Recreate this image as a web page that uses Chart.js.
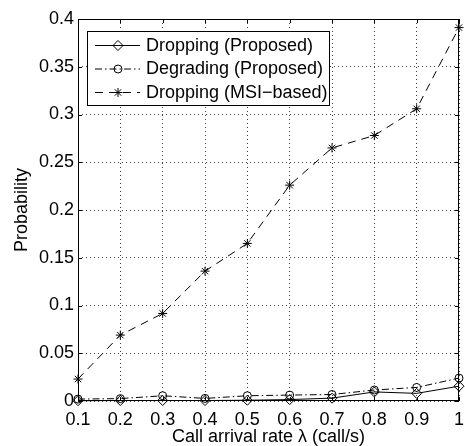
<!DOCTYPE html>
<html>
<head>
<meta charset="utf-8">
<script src="https://cdn.jsdelivr.net/npm/chart.js@4.4.0/dist/chart.umd.min.js"></script>
<style>
  html, body { margin: 0; padding: 0; background: #ffffff; }
  #wrap { width: 465px; height: 446px; position: relative; }
</style>
</head>
<body>
<div id="wrap"><canvas id="c" width="465" height="446"></canvas></div>
<script>
// ---- data ----
const arrivalRates = [0.1, 0.2, 0.3, 0.4, 0.5, 0.6, 0.7, 0.8, 0.9, 1.0];
const droppingProposed = [0.0003, 0.0005, 0.0005, 0.0005, 0.0008, 0.0015, 0.003, 0.0095, 0.008, 0.0155];
const degradingProposed = [0.002, 0.0025, 0.0055, 0.0027, 0.0055, 0.0062, 0.0068, 0.0115, 0.0142, 0.024];
const droppingMSI = [0.023, 0.069, 0.0917, 0.136, 0.165, 0.226, 0.265, 0.278, 0.306, 0.391];
const xTickValues = [0.1, 0.2, 0.3, 0.4, 0.5, 0.6, 0.7, 0.8, 0.9, 1];
const yTickValues = [0, 0.05, 0.1, 0.15, 0.2, 0.25, 0.3, 0.35, 0.4];
const seriesNames = ['Dropping (Proposed)', 'Degrading (Proposed)', 'Dropping (MSI\u2212based)'];
const xTitle = 'Call arrival rate \u03bb (call/s)';
const yTitle = 'Probability';

const FONT = '"Liberation Sans", Arial, Helvetica, sans-serif';

function pts(arr) { return arrivalRates.map((x, i) => ({ x: x, y: arr[i] })); }

const datasets = [
  { label: seriesNames[0], data: pts(droppingProposed), borderColor: '#000', borderWidth: 1,
    pointStyle: 'rectRot', pointRadius: 5, pointBorderWidth: 1, pointBackgroundColor: 'rgba(0,0,0,0)',
    pointBorderColor: '#000', borderDash: [], clip: false, tension: 0 },
  { label: seriesNames[1], data: pts(degradingProposed), borderColor: '#000', borderWidth: 1,
    pointStyle: 'circle', pointRadius: 4, pointBorderWidth: 1, pointBackgroundColor: 'rgba(0,0,0,0)',
    pointBorderColor: '#000', borderDash: [7, 3, 1.5, 3], clip: false, tension: 0 },
  { label: seriesNames[2], data: pts(droppingMSI), borderColor: '#000', borderWidth: 1,
    pointStyle: 'star', pointRadius: 4.5, pointBorderWidth: 1, pointBackgroundColor: 'rgba(0,0,0,0)',
    pointBorderColor: '#000', borderDash: [8, 6], clip: false, tension: 0 }
];

function drawMarker(ctx, style, x, y, r) {
  ctx.beginPath();
  if (style === 'rectRot') {
    ctx.moveTo(x - r, y); ctx.lineTo(x, y - r); ctx.lineTo(x + r, y); ctx.lineTo(x, y + r); ctx.closePath();
  } else if (style === 'circle') {
    ctx.arc(x, y, r, 0, Math.PI * 2);
  } else if (style === 'star') {
    const d = r * Math.SQRT1_2;
    ctx.moveTo(x - r, y); ctx.lineTo(x + r, y);
    ctx.moveTo(x, y - r); ctx.lineTo(x, y + r);
    ctx.moveTo(x - d, y - d); ctx.lineTo(x + d, y + d);
    ctx.moveTo(x - d, y + d); ctx.lineTo(x + d, y - d);
  }
  ctx.stroke();
}

const framePlugin = {
  id: 'frame',
  afterDraw(chart) {
    const ctx = chart.ctx;
    const a = chart.chartArea;
    const xs = chart.scales.x, ys = chart.scales.y;
    ctx.save();
    ctx.strokeStyle = '#000';
    ctx.lineWidth = 1;
    ctx.setLineDash([]);
    ctx.strokeRect(Math.round(a.left) + 0.5, Math.round(a.top) + 0.5,
                   Math.round(a.right - a.left) - 1, Math.round(a.bottom - a.top) - 1);
    const tl = 4;
    ctx.beginPath();
    xTickValues.forEach(v => {
      const px = Math.round(xs.getPixelForValue(v)) + 0.5;
      ctx.moveTo(px, a.bottom); ctx.lineTo(px, a.bottom - tl);
      ctx.moveTo(px, a.top); ctx.lineTo(px, a.top + tl);
    });
    yTickValues.forEach(v => {
      const py = Math.round(ys.getPixelForValue(v)) + 0.5;
      ctx.moveTo(a.left, py); ctx.lineTo(a.left + tl, py);
      ctx.moveTo(a.right, py); ctx.lineTo(a.right - tl, py);
    });
    ctx.stroke();

    // legend box
    const lx = 87.5, ly = 31.5, lw = 242, lh = 74;
    ctx.fillStyle = '#fff';
    ctx.fillRect(lx, ly, lw, lh);
    ctx.strokeRect(lx, ly, lw, lh);
    const rowsY = [45, 68.5, 92];
    ctx.font = '18px ' + FONT;
    ctx.textBaseline = 'middle';
    ctx.textAlign = 'left';
    chart.data.datasets.forEach((ds, i) => {
      const y = rowsY[i];
      ctx.strokeStyle = '#000';
      ctx.lineWidth = 1;
      ctx.setLineDash(ds.borderDash || []);
      ctx.beginPath();
      ctx.moveTo(95, y + 0.5); ctx.lineTo(140, y + 0.5);
      ctx.stroke();
      ctx.setLineDash([]);
      drawMarker(ctx, ds.pointStyle, 118, y + 0.5, ds.pointRadius);
      ctx.fillStyle = '#000';
      ctx.fillText(ds.label, 146, y + 1);
    });
    ctx.restore();
  }
};

new Chart(document.getElementById('c'), {
  type: 'line',
  data: { datasets: datasets },
  options: {
    responsive: false,
    animation: false,
    devicePixelRatio: 1,
    layout: { padding: { top: 19, right: 5, left: 0, bottom: 0 } },
    plugins: { legend: { display: false }, tooltip: { enabled: false } },
    scales: {
      x: {
        type: 'linear', min: 0.1, max: 1,
        afterBuildTicks: s => { s.ticks = xTickValues.map(v => ({ value: v })); },
        afterFit: s => { s.height = 45; s.paddingLeft = 0; s.paddingRight = 0; },
        ticks: { color: '#000', font: { family: FONT, size: 18 }, padding: 8, maxRotation: 0,
                 callback: v => String(v) },
        grid: { color: 'rgba(0,0,0,0.75)', lineWidth: 1, drawTicks: false },
        border: { display: false, dash: [1, 3] },
        title: { display: true, text: xTitle, color: '#000', font: { family: FONT, size: 18, lineHeight: 1 }, padding: { top: 0, bottom: 0 } }
      },
      y: {
        type: 'linear', min: 0, max: 0.4,
        afterBuildTicks: s => { s.ticks = yTickValues.map(v => ({ value: v })); },
        afterFit: s => { s.width = 78; s.paddingTop = 0; s.paddingBottom = 0; },
        ticks: { color: '#000', font: { family: FONT, size: 18 }, padding: 4,
                 callback: v => String(v) },
        grid: { color: 'rgba(0,0,0,0.75)', lineWidth: 1, drawTicks: false },
        border: { display: false, dash: [1, 3] },
        title: { display: true, text: yTitle, color: '#000', font: { family: FONT, size: 18 }, padding: { top: 11, bottom: 0 } }
      }
    }
  },
  plugins: [framePlugin]
});
</script>
</body>
</html>
